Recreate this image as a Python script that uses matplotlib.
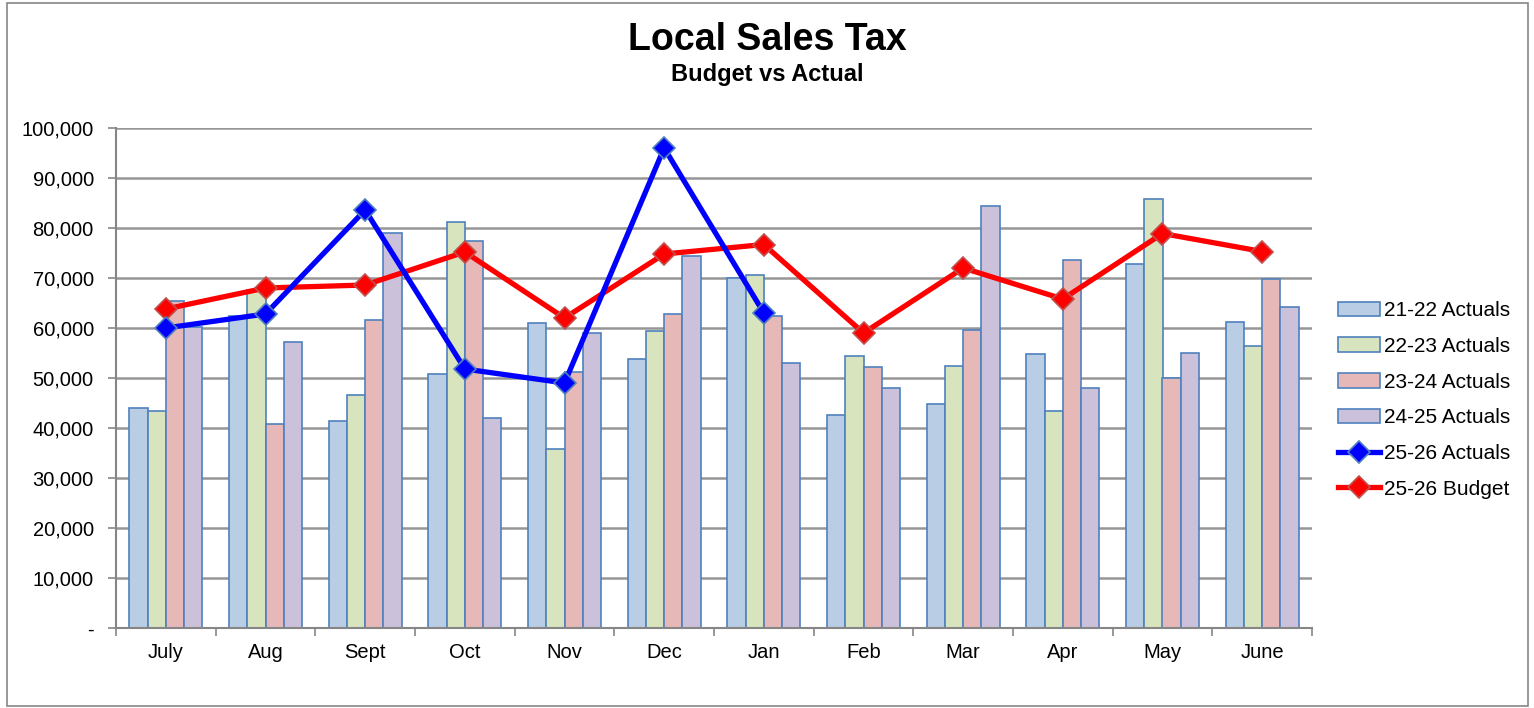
import numpy as np
import matplotlib.pyplot as plt
from matplotlib.ticker import FuncFormatter

plt.rcParams['font.family'] = ['Liberation Sans', 'DejaVu Sans']

months = ["July", "Aug", "Sept", "Oct", "Nov", "Dec", "Jan", "Feb", "Mar", "Apr", "May", "June"]

act_21_22 = [44100, 62500, 41500, 50800, 61000, 53800, 70100, 42600, 44800, 54800, 72800, 61200]
act_22_23 = [43500, 67600, 46700, 81200, 35800, 59400, 70600, 54400, 52400, 43400, 85800, 56400]
act_23_24 = [65500, 40800, 61700, 77400, 51200, 62800, 62400, 52200, 59600, 73600, 50000, 69800]
act_24_25 = [60300, 57300, 79000, 42000, 59000, 74500, 53000, 48000, 84400, 48000, 55000, 64200]
act_25_26 = [60000, 62800, 83600, 51800, 49000, 96000, 63000]
budget_25_26 = [63800, 68000, 68600, 75200, 62000, 74800, 76700, 59000, 72000, 65800, 78900, 75300]

bar_series = [act_21_22, act_22_23, act_23_24, act_24_25]
bar_labels = ["21-22 Actuals", "22-23 Actuals", "23-24 Actuals", "24-25 Actuals"]
bar_colors = ["#B9CDE5", "#D7E4BD", "#E6B9B8", "#CCC1DA"]

fig = plt.figure(figsize=(15.34, 7.08), dpi=100)
ax = fig.add_axes([116 / 1534, 80 / 708, 1196 / 1534, 500 / 708])

x = np.arange(len(months))
w = 0.183
handles = []
for i, (vals, lab, col) in enumerate(zip(bar_series, bar_labels, bar_colors)):
    b = ax.bar(x + (i - 1.5) * w, vals, width=w, color=col, edgecolor="#4F81BD",
               linewidth=1.2, label=lab, zorder=2)
    handles.append(b)

xa = np.arange(len(act_25_26))
l1, = ax.plot(xa, act_25_26, color="#0000FF", lw=3.8, marker="D", ms=11,
              mfc="#0000FF", mec="#4F81BD", mew=1.2, label="25-26 Actuals", zorder=4)
l2, = ax.plot(x, budget_25_26, color="#FF0000", lw=3.8, marker="D", ms=11,
              mfc="#FF0000", mec="#C0504D", mew=1.2, label="25-26 Budget", zorder=3)
handles += [l1, l2]

ax.set_xlim(-0.5, len(months) - 0.5)
ax.set_ylim(0, 100000)
ax.set_yticks(np.arange(0, 100001, 10000))
ax.yaxis.set_major_formatter(FuncFormatter(lambda v, p: "-" if v == 0 else f"{int(v):,}"))
ax.set_xticks(x)
ax.set_xticklabels(months)
ax.set_xticks(np.arange(-0.5, len(months)), minor=True)
ax.tick_params(axis="x", which="major", length=0, pad=11, labelsize=14.5)
ax.tick_params(axis="x", which="minor", length=6, color="#868686", width=1.2)
ax.tick_params(axis="y", length=6, color="#868686", width=1.2, labelsize=14.5, pad=10)
ax.grid(axis="y", color="#969696", lw=1.8, zorder=0)
ax.set_axisbelow(True)
for s in ["top", "right"]:
    ax.spines[s].set_visible(False)
for s in ["left", "bottom"]:
    ax.spines[s].set_color("#868686")
    ax.spines[s].set_linewidth(1.5)

ax.legend(handles=handles, loc="center left", bbox_to_anchor=(1222 / 1196, 0.456),
          frameon=False, fontsize=15, handlelength=2.0, labelspacing=0.8,
          handletextpad=0.2, borderpad=0, borderaxespad=0)

fig.text(0.5, 1 - 40 / 708, "Local Sales Tax", ha="center", va="center",
         fontsize=27, fontweight="bold")
fig.text(0.5, 1 - 75 / 708, "Budget vs Actual", ha="center", va="center",
         fontsize=17, fontweight="bold")

fig.patches.append(plt.Rectangle((7 / 1534, 2 / 708), 1521 / 1534, 703 / 708,
                                 transform=fig.transFigure, fill=False,
                                 edgecolor="#868686", lw=1.2))

fig.savefig("out.png", dpi=100)
